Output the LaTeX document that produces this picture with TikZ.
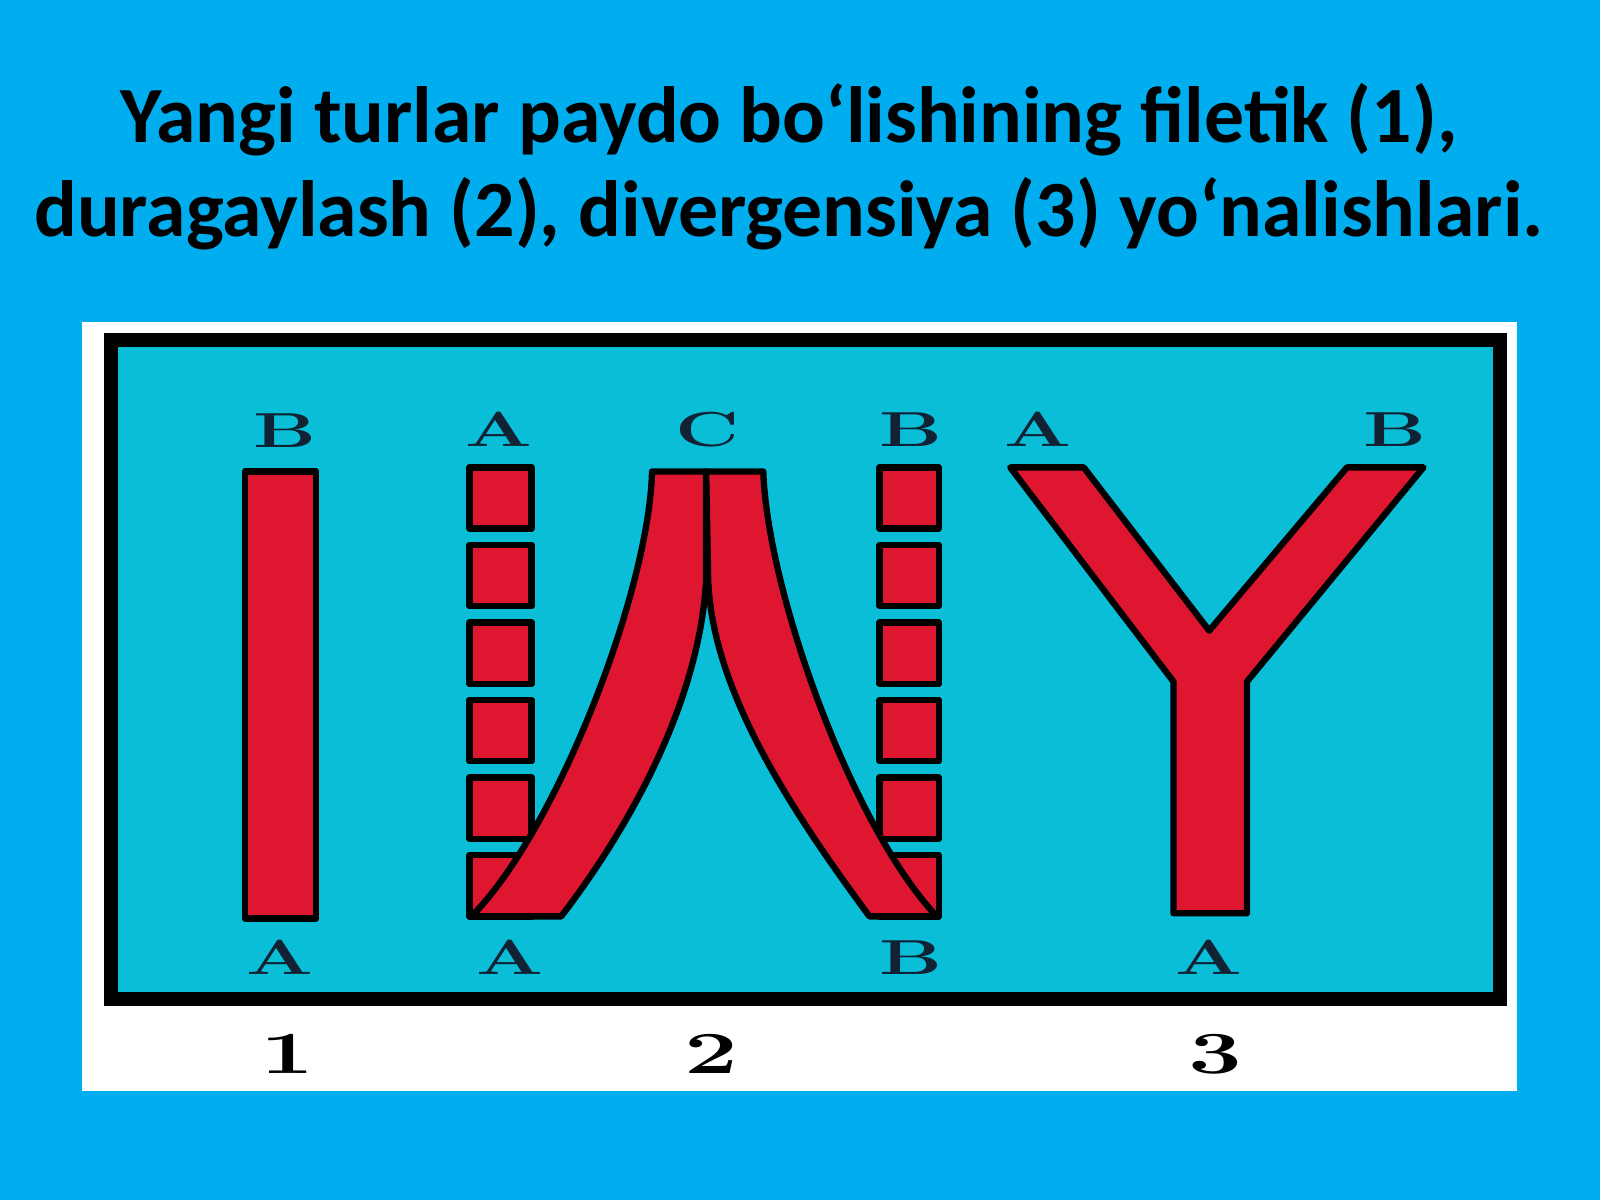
\documentclass[tikz,border=0pt]{standalone}
\usepackage{fontspec}
\newfontfamily\titlefont{Carlito}
\usepackage{graphicx}
\usepackage{tikz}

\definecolor{skyblue}{RGB}{0,174,239}
\definecolor{panelcyan}{RGB}{10,190,216}
\definecolor{bandred}{RGB}{222,22,48}
\definecolor{letterblue}{RGB}{16,34,52}

\newcommand{\wide}[1]{\scalebox{1.6}[1]{#1}}

\begin{document}
\begin{tikzpicture}
  [x=0.0102041cm,y=-0.0102041cm,
   every node/.style={inner sep=0pt},
   redpart/.style={draw=black,line width=1.8pt,fill=bandred,line join=round},
   letter/.style={font=\fontsize{14}{14}\selectfont\bfseries,text=letterblue},
   number/.style={font=\fontsize{17}{17}\selectfont\bfseries},
   headline/.style={font=\titlefont\bfseries\fontsize{22.7}{28}\selectfont,anchor=base}]

  \fill[skyblue] (0,0) rectangle (1568,1176);
  \useasboundingbox (0,0) rectangle (1568,1176);

  \node[headline] (t1) at (773,140) {Yangi turlar paydo bo‘lishining filetik (1),};
  \node[headline] (t2) at (773,232) {duragaylash (2), divergensiya (3) yo‘nalishlari.};

  \fill[white] (80,316) rectangle (1487,1069);
  \draw[fill=panelcyan,line width=4pt] (109,333) rectangle (1470,979);

  % 1
  \draw[redpart] (240,462) rectangle (310,900);

  % 2
  \foreach \i in {0,...,5}
  {
    \draw[redpart] (460,{458+76*\i}) rectangle (521,{518+76*\i});
    \draw[redpart] (862,{458+76*\i}) rectangle (920,{518+76*\i});
  }
  \draw[redpart] (639,462) -- (692,462) -- (692,568)
    .. controls (686,680) and (625,800) .. (550,898) -- (462,898)
    .. controls (545,815) and (636,580) .. cycle;
  \draw[redpart] (692,462) -- (748,462)
    .. controls (752,580) and (835,810) .. (918,898) -- (852,898)
    .. controls (780,800) and (698,680) .. (694,568) -- cycle;

  % 3
  \draw[redpart] (990,458) -- (1062,458) -- (1185,618) -- (1320,458) -- (1395,458)
    -- (1222,668) -- (1222,895) -- (1150,895) -- (1150,668) -- cycle;

  \node[letter] (b1) at (279,422) {\wide{B}};
  \node[letter] (a1) at (274,938) {\wide{A}};
  \node[letter] (a2) at (489,421) {\wide{A}};
  \node[letter] (c2) at (693,421) {\wide{C}};
  \node[letter] (b2) at (893,421) {\wide{B}};
  \node[letter] (a2b) at (500,938) {\wide{A}};
  \node[letter] (b2b) at (893,938) {\wide{B}};
  \node[letter] (a3) at (1017,421) {\wide{A}};
  \node[letter] (b3) at (1367,421) {\wide{B}};
  \node[letter] (a3b) at (1185,938) {\wide{A}};

  \node[number] (n1) at (282,1033) {\wide{1}};
  \node[number] (n2) at (697,1033) {\wide{2}};
  \node[number] (n3) at (1191,1033) {\wide{3}};
\end{tikzpicture}
\end{document}
